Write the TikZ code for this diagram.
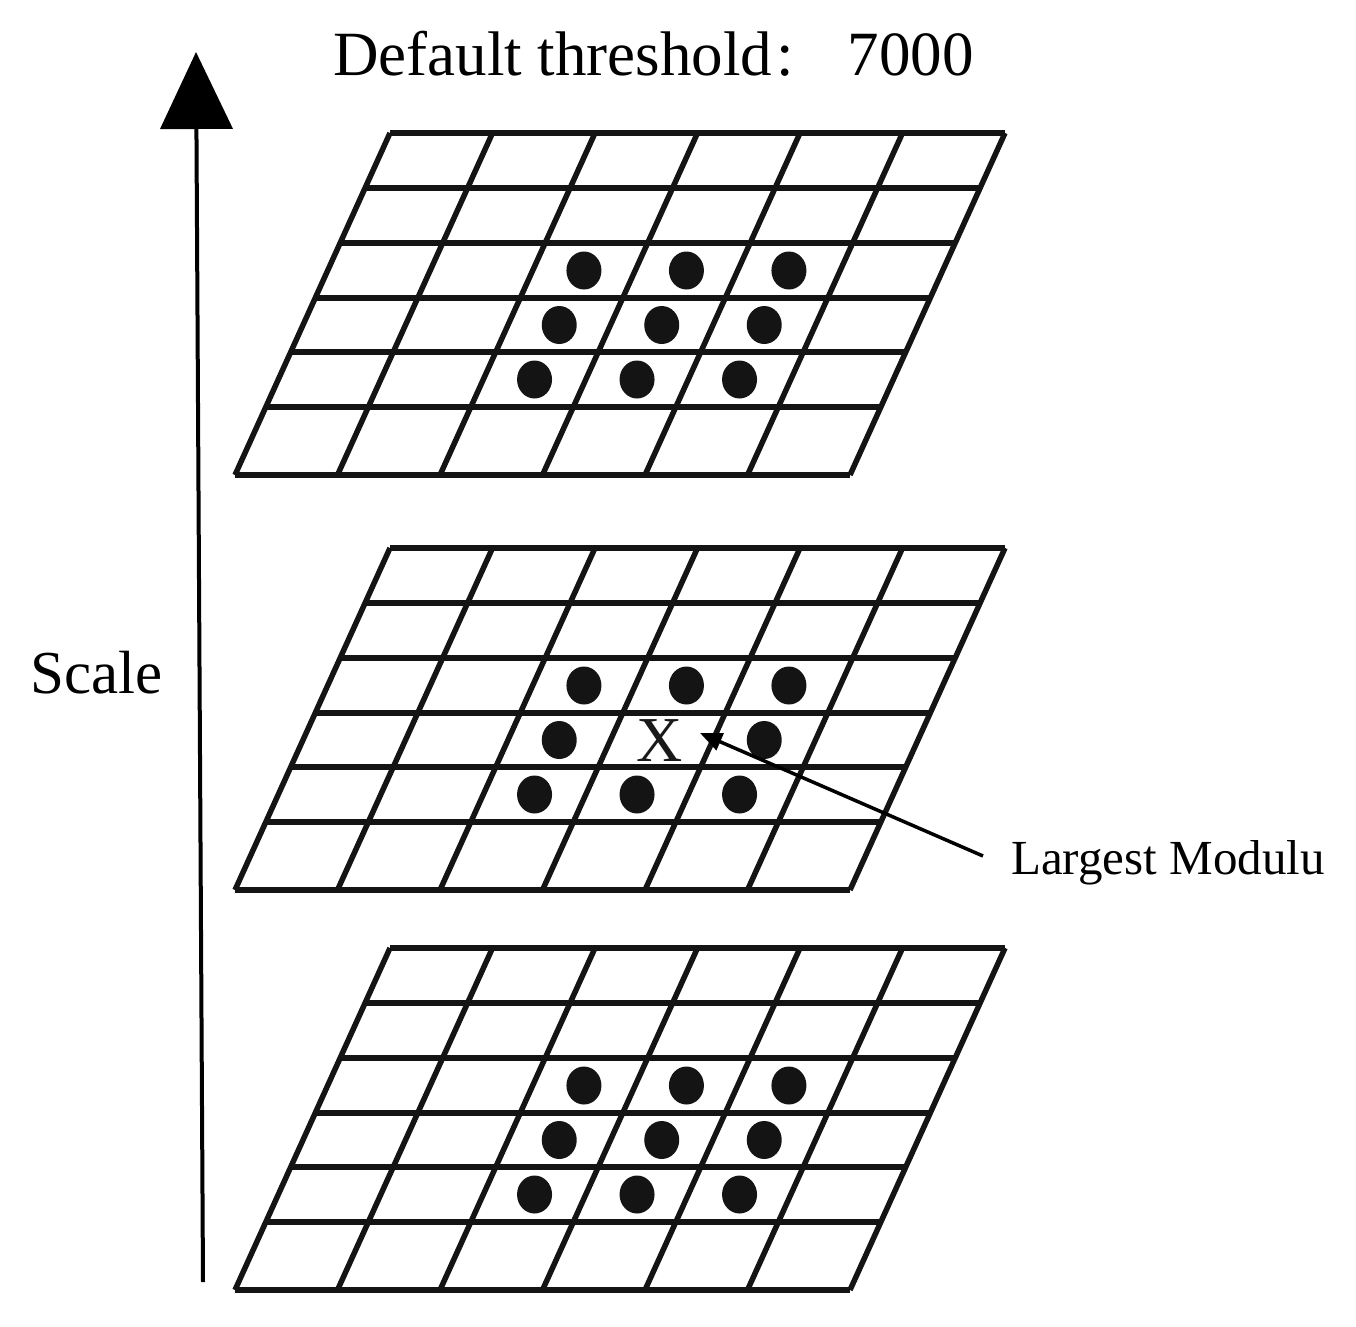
\documentclass[tikz,border=0pt]{standalone}
\usepackage{fontspec}
\setmainfont{Liberation Serif}
\usetikzlibrary{arrows.meta}
\tikzset{
  gridline/.style={line width=5.5pt, draw=black!92},
  gdot/.style={fill=black!92},
  txt/.style={inner sep=0pt, anchor=base west, text=black}
}
\newcommand\dotrow[2]{%
  \foreach \k in {#2}
    \fill[gdot] ({390-0.4532*#1+102.5*(\k+0.5)},#1) ellipse (17.5 and 19);%
}
\newcommand\gridlayer[1]{%
  \begin{scope}[shift={(0,#1)}]
    \foreach \yy in {0,55,110,165,219,274,342}
      \draw[gridline] ({390-0.4532*\yy},\yy) -- ({1005-0.4532*\yy},\yy);
    \foreach \k in {0,...,6}
      \draw[gridline] ({390+102.5*\k},0) -- ({235+102.5*\k},342);
    \dotrow{137.5}{2,3,4}
    \dotrow{246.5}{2,3,4}
  \end{scope}%
}
\begin{document}
\begin{tikzpicture}[x=1pt,y=-1pt]
\useasboundingbox (0,0) rectangle (1356,1326);
\fill[white] (0,0) rectangle (1356,1326);

% title
\node[txt, font=\fontsize{63}{70}\selectfont] (title) at (333,75) {Default threshold\hspace{4pt}:\hspace{54pt}7000};

% scale arrow
\coordinate (sbot) at (203,1282);
\coordinate (stop) at (196,52);
\draw[line width=4pt, -{Triangle[width=72pt,length=77pt]}] (sbot) -- (stop);
\node[txt, font=\fontsize{61}{68}\selectfont] (scalelbl) at (30,693) {Scale};

% grids
\gridlayer{133}
\begin{scope}[shift={(0,133)}]\dotrow{192}{2,3,4}\end{scope}
\gridlayer{548}
\begin{scope}[shift={(0,548)}]\dotrow{192}{2,4}\end{scope}
\gridlayer{948}
\begin{scope}[shift={(0,948)}]\dotrow{192}{2,3,4}\end{scope}

% X mark
\node[inner sep=0pt, font=\fontsize{64}{64}\selectfont, text=black!90] (xmark) at (660,741) {X};

% label and arrow
\node[txt, font=\fontsize{49}{56}\selectfont] (lbl) at (1011,874) {Largest Modulu};
\coordinate (src) at (983,856);
\coordinate (tip) at (700,733);
\draw[line width=3.5pt, -{Triangle[width=18pt,length=22pt]}] (src) -- (tip);
\end{tikzpicture}
\end{document}
